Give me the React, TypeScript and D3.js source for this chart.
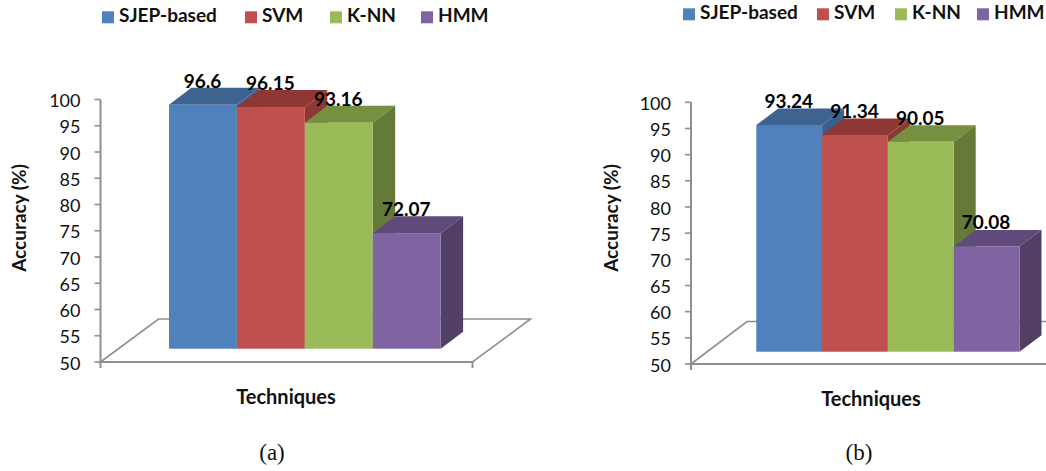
import React from "react";
import * as d3 from "d3";

const techniques = ["SJEP-based", "SVM", "K-NN", "HMM"];
const accuracyA = [96.6, 96.15, 93.16, 72.07];
const accuracyB = [93.24, 91.34, 90.05, 70.08];
const labelsA = ["96.6", "96.15", "93.16", "72.07"];
const labelsB = ["93.24", "91.34", "90.05", "70.08"];
const yTicks = [50, 55, 60, 65, 70, 75, 80, 85, 90, 95, 100];
const frontColors = ["#4f81bd", "#c0504d", "#9bbb59", "#8064a2"];
const topColors = ["#3f6391", "#8e3836", "#77903f", "#604a7b"];
const sideColors = ["#3a5f8b", "#8e3836", "#657a36", "#523f66"];

const W = 1046;
const H = 471;
const AXIS = "#8f8f8f";
const SANS = "Lato, 'Open Sans', sans-serif";
const SERIF = "'Liberation Serif', serif";

type PanelCfg = {
  values: number[];
  labels: string[];
  caption: string;
  axisX: number;
  axisEndX: number;
  axisTop: number;
  axisBottom: number;
  floorDx: number;
  floorDy: number;
  barX0: number;
  barX1: number;
  barBase: number;
  barUnit: number;
  depthX: number;
  depthY: number;
  legendRects: number[];
  legendTexts: number[];
  legendY: number;
  titleX: number;
  titleYCenter: number;
  xTitleX: number;
  xTitleY: number;
  captionX: number;
};

const panels: PanelCfg[] = [
  {
    values: accuracyA, labels: labelsA, caption: "(a)",
    axisX: 100.5, axisEndX: 472.5, axisTop: 99.5, axisBottom: 362,
    floorDx: 58, floorDy: -43,
    barX0: 169, barX1: 440.7, barBase: 348.7, barUnit: 5.236,
    depthX: 22.4, depthY: -17,
    legendRects: [102, 245, 330, 421], legendTexts: [119, 262, 347, 438], legendY: 11.3,
    titleX: 19, titleYCenter: 218, xTitleX: 286, xTitleY: 397, captionX: 272,
  },
  {
    values: accuracyB, labels: labelsB, caption: "(b)",
    axisX: 691, axisEndX: 1051, axisTop: 102.3, axisBottom: 364,
    floorDx: 56, floorDy: -42.5,
    barX0: 756.3, barX1: 1019.5, barBase: 351.7, barUnit: 5.243,
    depthX: 22, depthY: -16.5,
    legendRects: [683, 817, 895, 977], legendTexts: [700, 834, 912, 994], legendY: 8.3,
    titleX: 611, titleYCenter: 218, xTitleX: 871, xTitleY: 399, captionX: 859,
  },
];

function Panel({ cfg }: { cfg: PanelCfg }) {
  const y = d3.scaleLinear().domain([50, 100]).range([cfg.axisBottom, cfg.axisTop]);
  const h = d3.scaleLinear().domain([50, 100]).range([cfg.barBase, cfg.barBase - 50 * cfg.barUnit]);
  const x = d3.scaleBand<string>().domain(techniques).range([cfg.barX0, cfg.barX1]).padding(0);
  const poly = d3.line();
  const floor = poly([
    [cfg.axisX, cfg.axisBottom],
    [cfg.axisX + cfg.floorDx, cfg.axisBottom + cfg.floorDy],
    [cfg.axisEndX + cfg.floorDx, cfg.axisBottom + cfg.floorDy],
    [cfg.axisEndX, cfg.axisBottom],
  ]) + "Z";
  return (
    <g>
      {techniques.map((t, i) => (
        <g key={t}>
          <rect x={cfg.legendRects[i]} y={cfg.legendY} width={12} height={12} fill={frontColors[i]} />
          <text x={cfg.legendTexts[i]} y={cfg.legendY + 10.8} fontFamily={SANS} fontWeight={700} fontSize={19} fill="#111">{t}</text>
        </g>
      ))}
      <path d={floor ?? ""} fill="#fff" stroke={AXIS} strokeWidth={1.6} />
      <line x1={cfg.axisX} x2={cfg.axisX} y1={cfg.axisTop} y2={cfg.axisBottom + 6} stroke={AXIS} strokeWidth={2} />
      <line x1={cfg.axisX} x2={cfg.axisEndX} y1={cfg.axisBottom} y2={cfg.axisBottom} stroke={AXIS} strokeWidth={2} />
      <line x1={cfg.axisEndX} x2={cfg.axisEndX} y1={cfg.axisBottom} y2={cfg.axisBottom + 6} stroke={AXIS} strokeWidth={2} />
      {yTicks.map((t) => (
        <g key={t}>
          <line x1={cfg.axisX - 6} x2={cfg.axisX} y1={y(t)} y2={y(t)} stroke={AXIS} strokeWidth={1.6} />
          <text x={cfg.axisX - 20} y={y(t)} dy="0.42em" textAnchor="end" fontFamily={SANS} fontSize={18} fill="#111">{t}</text>
        </g>
      ))}
      {techniques.map((t, i) => {
        const x0 = x(t) as number;
        const bw = x.bandwidth();
        const top = h(cfg.values[i]);
        const base = cfg.barBase;
        const dx = cfg.depthX;
        const dy = cfg.depthY;
        return (
          <g key={t}>
            <path d={poly([[x0, top], [x0 + dx, top + dy], [x0 + bw + dx, top + dy], [x0 + bw, top]]) + "Z"} fill={topColors[i]} />
            <path d={poly([[x0 + bw, top], [x0 + bw + dx, top + dy], [x0 + bw + dx, base + dy], [x0 + bw, base]]) + "Z"} fill={sideColors[i]} />
            <rect x={x0} y={top} width={bw} height={base - top} fill={frontColors[i]} />
          </g>
        );
      })}
      {techniques.map((t, i) => (
        <text key={t} x={(x(t) as number) + x.bandwidth() / 2 - 0.5} y={h(cfg.values[i]) - 24} dy="0.36em" textAnchor="middle" fontFamily={SANS} fontWeight={700} fontSize={19} fill="#000">
          {cfg.labels[i]}
        </text>
      ))}
      <text transform={`translate(${cfg.titleX},${cfg.titleYCenter}) rotate(-90)`} textAnchor="middle" dy="0.36em" fontFamily={SANS} fontWeight={700} fontSize={19} fill="#111">Accuracy (%)</text>
      <text x={cfg.xTitleX} y={cfg.xTitleY} dy="0.36em" textAnchor="middle" fontFamily={SANS} fontWeight={700} fontSize={20} fill="#111">Techniques</text>
      <text x={cfg.captionX} y={460} textAnchor="middle" fontFamily={SERIF} fontSize={23} fill="#111">{cfg.caption}</text>
    </g>
  );
}

export default function App() {
  return (
    <svg width={W} height={H} viewBox={`0 0 ${W} ${H}`} style={{ position: "absolute", left: 0, top: 0, background: "#fff" }}>
      {panels.map((p) => (
        <Panel key={p.caption} cfg={p} />
      ))}
    </svg>
  );
}
